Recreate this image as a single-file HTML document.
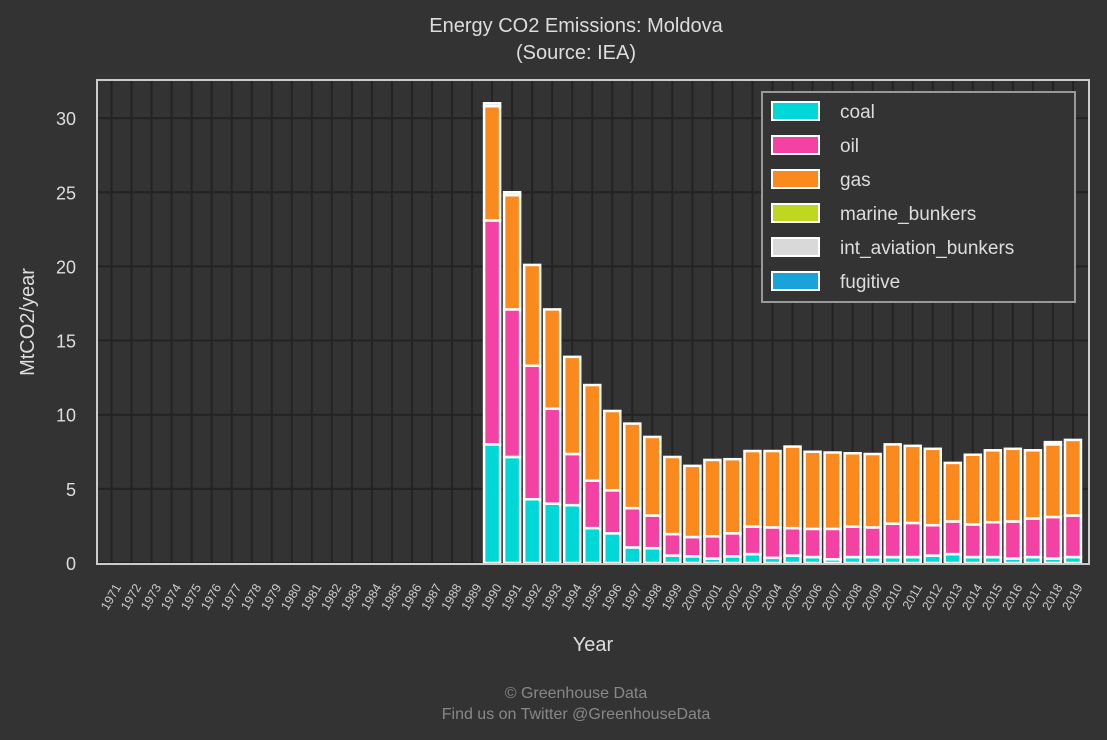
<!DOCTYPE html>
<html><head><meta charset="utf-8"><style>
body{margin:0;background:#333;}
svg{display:block;font-family:"Liberation Sans",sans-serif;}
</style></head><body>
<svg id="chart" width="1107" height="740">
<rect width="1107" height="740" fill="#333"/>
<text x="576" y="32" text-anchor="middle" fill="#ddd" font-size="20">Energy CO2 Emissions: Moldova</text>
<text x="576" y="59" text-anchor="middle" fill="#ddd" font-size="20">(Source: IEA)</text>
<g id="grid"></g>
<g id="bars"></g>
<rect x="97" y="80" width="992" height="484" fill="none" stroke="#ccc" stroke-width="2"/>
<g id="yticks"></g>
<g id="xticks"></g>
<text transform="translate(34,322) rotate(-90)" text-anchor="middle" fill="#ddd" font-size="20">MtCO2/year</text>
<text x="593" y="651" text-anchor="middle" fill="#ddd" font-size="20">Year</text>
<text x="576" y="698" text-anchor="middle" fill="#888" font-size="16">© Greenhouse Data</text>
<text x="576" y="719" text-anchor="middle" fill="#888" font-size="16">Find us on Twitter @GreenhouseData</text>
<g id="legend"></g>
</svg>
<script>
const years=[];for(let y=1971;y<=2019;y++)years.push(y);
const pre=new Array(19).fill(0);
const coal=pre.concat([8.0,7.15,4.3,4.0,3.9,2.35,2.0,1.05,1.0,0.5,0.45,0.3,0.45,0.6,0.35,0.5,0.4,0.25,0.4,0.4,0.4,0.4,0.5,0.6,0.4,0.4,0.3,0.4,0.3,0.4]);
const oil=pre.concat([15.1,9.95,9.0,6.4,3.45,3.2,2.9,2.65,2.2,1.45,1.3,1.5,1.55,1.85,2.05,1.85,1.9,2.05,2.05,2.0,2.25,2.3,2.05,2.2,2.2,2.35,2.5,2.6,2.8,2.8]);
const gas=pre.concat([7.7,7.7,6.8,6.7,6.55,6.45,5.35,5.7,5.3,5.2,4.8,5.15,5.0,5.1,5.15,5.5,5.2,5.15,4.95,4.95,5.35,5.2,5.15,3.95,4.7,4.85,4.9,4.6,4.9,5.1]);
const marine=new Array(49).fill(0);
const aviation=pre.concat([0.2,0.2,0,0,0,0,0,0,0,0,0,0,0,0,0,0,0,0,0,0,0,0,0,0,0,0,0,0,0.15,0]);
const fugitive=new Array(49).fill(0);
const yTicks=[0,5,10,15,20,25,30];
const seriesNames=["coal","oil","gas","marine_bunkers","int_aviation_bunkers","fugitive"];
const seriesColors=["#00d8d8","#f442a4","#fb8a1e","#bfd71e","#d9d9d9","#1aa3d9"];
const series=[coal,oil,gas,marine,aviation,fugitive];
const NS="http://www.w3.org/2000/svg";
const x0=97,step=20.03,pad=4.5;
const xc=i=>x0+pad+step*(i+0.5);
const ys=v=>563-v*14.83;
function mk(t,a,p){const e=document.createElementNS(NS,t);for(const k in a)e.setAttribute(k,a[k]);p.appendChild(e);return e;}
const grid=document.getElementById('grid'),bars=document.getElementById('bars'),yt=document.getElementById('yticks'),xt=document.getElementById('xticks'),lg=document.getElementById('legend');
years.forEach((y,i)=>{const l=mk('line',{x1:xc(i),x2:xc(i),y1:80,y2:563,stroke:'#232323','stroke-width':2},grid);

});
yTicks.forEach(v=>{const l=mk('line',{x1:97,x2:1089,y1:ys(v),y2:ys(v),stroke:'#232323','stroke-width':2},grid);


const t=mk('text',{x:76,y:ys(v)+7,'text-anchor':'end',fill:'#ddd','font-size':18},yt);t.textContent=v;

});
years.forEach((y,i)=>{let base=0;const w=16;
series.forEach((s,k)=>{const v=s[i];if(v<=0&&!(k==0&&i<19))return;
const r=mk('rect',{x:xc(i)-w/2,y:ys(base+v),width:w,height:Math.max(0,ys(base)-ys(base+v)),fill:seriesColors[k],stroke:'#fff','stroke-width':2.5},bars);


base+=v;});
const t=mk('text',{transform:`translate(${xc(i)+10},${587}) rotate(-60)`,'text-anchor':'end',fill:'#ccc','font-size':12.5},xt);t.textContent=y;

});
const box=mk('rect',{x:762,y:92,width:313,height:210,fill:'#333',stroke:'#999','stroke-width':2},lg);


seriesNames.forEach((n,k)=>{const yy=111+k*34;
const r=mk('rect',{x:772,y:yy-9,width:47,height:18,fill:seriesColors[k],stroke:'#fff','stroke-width':2},lg);


const t=mk('text',{x:840,y:yy+7,fill:'#ddd','font-size':19},lg);t.textContent=n;

});
</script>
</body></html>
